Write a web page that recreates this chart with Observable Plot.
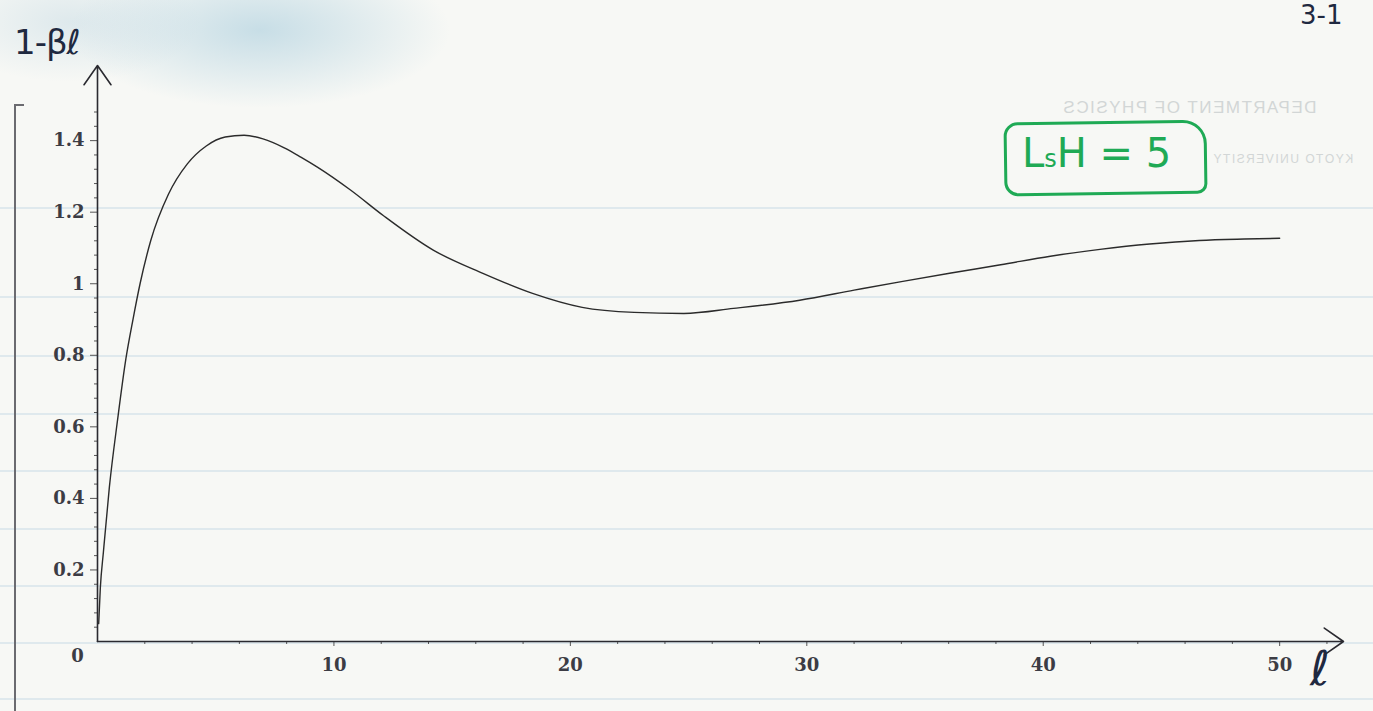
<!DOCTYPE html>
<html>
<head>
<meta charset="utf-8">
<script src="https://cdn.jsdelivr.net/npm/d3@7"></script>
<script src="https://cdn.jsdelivr.net/npm/@observablehq/plot@0.6"></script>
<style>
  html, body { margin: 0; padding: 0; background: #f7f8f5; }
  #page {
    position: relative; width: 1373px; height: 711px; overflow: hidden;
    background:
      radial-gradient(ellipse 190px 78px at 260px 30px, rgba(160,200,218,0.55), rgba(160,200,218,0) 100%),
      radial-gradient(ellipse 130px 60px at 70px 22px, rgba(175,205,220,0.35), rgba(175,205,220,0) 100%),
      #f7f8f5;
  }
  .rule { position: absolute; left: 0; width: 1373px; height: 2px; background: rgba(200,218,230,0.5); }
  #chart { position: absolute; left: 0; top: 0; }
  .hand { position: absolute; font-family: "DejaVu Sans", sans-serif; color: #1f2940; white-space: nowrap; }
  .ghost { position: absolute; font-family: "Liberation Sans", sans-serif; color: #d2d6d6; transform: scaleX(-1); transform-origin: center center; white-space: nowrap; letter-spacing: 1.5px; }
</style>
</head>
<body>
<div id="page"></div>
<script>
// ---- data ----
const ell = [0.05, 0.12, 0.25, 0.5, 0.85, 1.2, 1.5, 1.8, 2.25, 3.0, 3.8, 4.6, 5.4, 6.2, 7.0, 7.9, 8.6, 9.3, 10.7, 12.1, 14.2, 16.3, 18.4, 20.5, 22.7, 24.8, 26.9, 29.7, 32.0, 34.0, 36.1, 38.2, 40.3, 42.4, 44.5, 46.6, 48.5, 50.0];
const oneMinusBeta = [0.05, 0.15, 0.25, 0.43, 0.62, 0.79, 0.90, 1.00, 1.12, 1.25, 1.335, 1.385, 1.41, 1.415, 1.405, 1.38, 1.354, 1.326, 1.262, 1.19, 1.094, 1.029, 0.973, 0.934, 0.920, 0.917, 0.931, 0.954, 0.982, 1.006, 1.03, 1.053, 1.077, 1.096, 1.111, 1.121, 1.125, 1.127];
const xTicks = [10, 20, 30, 40, 50];
const xTickLabels = ["10", "20", "30", "40", "50"];
const xMinorTicks = [2, 4, 6, 8, 12, 14, 16, 18, 22, 24, 26, 28, 32, 34, 36, 38, 42, 44, 46, 48, 52];
const yTicks = [0.2, 0.4, 0.6, 0.8, 1.0, 1.2, 1.4];
const yTickLabels = ["0.2", "0.4", "0.6", "0.8", "1", "1.2", "1.4"];
const yMinorTicks = [0.04, 0.08, 0.12, 0.16, 0.24, 0.28, 0.32, 0.36, 0.44, 0.48, 0.52, 0.56, 0.64, 0.68, 0.72, 0.76, 0.84, 0.88, 0.92, 0.96, 1.04, 1.08, 1.12, 1.16, 1.24, 1.28, 1.32, 1.36, 1.44, 1.48];
const originLabel = ["0"];
const xLabel = "ℓ";
const yLabel = "1-βℓ";
const pageMark = "3-1";
const ghostLines = ["DEPARTMENT OF PHYSICS", "KYOTO UNIVERSITY"];
// paper ruling (decoration)
const paperLines = [207, 296, 355, 413, 470, 528, 585, 642, 698];

const table = ell.map((x, i) => ({x, y: oneMinusBeta[i]}));
const page = document.getElementById("page");

for (const y of paperLines) {
  const d = document.createElement("div");
  d.className = "rule"; d.style.top = y + "px";
  page.appendChild(d);
}

// ghost (mirrored, show-through) letterhead
const ghostPos = [{left: 1062, top: 98, size: 17}, {left: 1212, top: 152, size: 12}];
ghostLines.forEach((t, i) => {
  const g = document.createElement("div");
  g.className = "ghost";
  g.textContent = t;
  g.style.fontSize = ghostPos[i].size + "px";
  g.style.left = ghostPos[i].left + "px";
  g.style.top = ghostPos[i].top + "px";
  page.appendChild(g);
});

const ink = "#2a2a30";
const chart = Plot.plot({
  width: 1373,
  height: 711,
  marginLeft: 97,
  marginRight: 30,
  marginTop: 65,
  marginBottom: 70,
  style: {background: "transparent", fontFamily: "'DejaVu Serif', serif", fontSize: "18px", fontWeight: "bold", color: "#3c3c44", overflow: "visible"},
  x: {domain: [0, 52.7], axis: null},
  y: {domain: [0, 1.61], axis: null},
  marks: [
    Plot.axisX({ticks: xMinorTicks, tickSize: 3, text: null, label: null, stroke: "#555"}),
    Plot.axisX({ticks: xTicks, tickSize: 5, tickPadding: 12, label: null, tickFormat: (d, i) => xTickLabels[i], stroke: "#555", fill: "#3c3c44"}),
    Plot.axisY({ticks: yMinorTicks, tickSize: 3, text: null, label: null, stroke: "#555"}),
    Plot.axisY({ticks: yTicks, tickSize: 7, tickPadding: 6, label: null, tickFormat: (d, i) => yTickLabels[i], stroke: "#555", fill: "#3c3c44"}),
    Plot.text(originLabel, {x: 0, y: 0, text: d => d, dx: -20, dy: 15, fill: "#3c3c44"}),
    Plot.arrow([0], {x1: 0, y1: 0, x2: 52.7, y2: 0, stroke: ink, strokeWidth: 1.6, headLength: 22, headAngle: 70, bend: 0}),
    Plot.arrow([0], {x1: 0, y1: 0, x2: 0, y2: 1.61, stroke: ink, strokeWidth: 1.6, headLength: 22, headAngle: 70, bend: 0}),
    Plot.line(table, {x: "x", y: "y", stroke: "#2b2b2b", strokeWidth: 1.4, curve: "monotone-x"})
  ]
});
chart.id = "chart";
page.appendChild(chart);

// left bracket of the printed frame
const br = document.createElement("div");
br.style.cssText = "position:absolute;left:14px;top:104px;width:8px;height:605px;border-left:2px solid #6b6b70;border-top:2px solid #6b6b70;";
page.appendChild(br);

// handwritten annotations
function hand(text, left, top, size, color, extra) {
  const h = document.createElement("div");
  h.className = "hand";
  h.textContent = text;
  h.style.left = left + "px"; h.style.top = top + "px";
  h.style.fontSize = size + "px";
  if (color) h.style.color = color;
  if (extra) Object.assign(h.style, extra);
  page.appendChild(h);
  return h;
}
hand(yLabel, 14, 22, 34, null, {letterSpacing: "-1px"});
hand(xLabel, 1310, 640, 48, null, {fontStyle: "italic"});
hand(pageMark, 1300, 0, 26, null);

const box = document.createElement("div");
box.style.cssText = "position:absolute;left:1004px;top:121px;width:197px;height:68px;border:3px solid #1faa55;border-radius:14px 24px 10px 14px;transform:rotate(-0.8deg);";
page.appendChild(box);
const bl = hand("", 1022, 130, 40, "#1faa55", {fontStyle: "normal"});
bl.innerHTML = 'L<span style="font-size:24px">s</span>H = 5';
</script>
</body>
</html>
